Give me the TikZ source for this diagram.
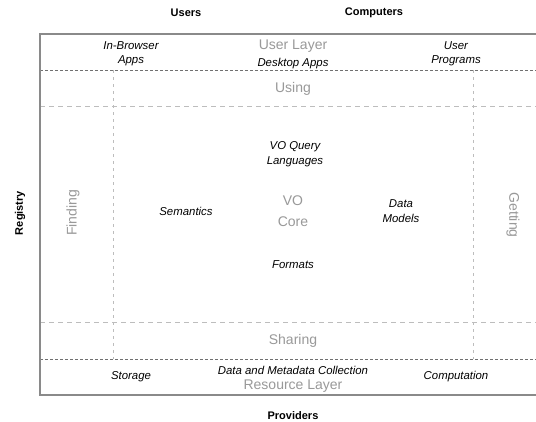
\documentclass[tikz,border=0pt]{standalone}
\usepackage{fontspec}
\setmainfont{Liberation Sans}
\definecolor{labgray}{HTML}{999999}
\definecolor{frame}{HTML}{8A8A8A}
\definecolor{darkdash}{HTML}{707070}
\definecolor{lightdash}{HTML}{BDBDBD}
\begin{document}
\begin{tikzpicture}[x=1pt,y=-1pt,
  heading/.style={font=\fontsize{11}{13}\selectfont\bfseries, text=black, inner sep=0pt},
  item/.style={font=\fontsize{11.4}{14.5}\selectfont\itshape, align=center, inner sep=0pt},
  layer/.style={font=\fontsize{14}{21}\selectfont, text=labgray, align=center, inner sep=0pt},
  border/.style={draw=frame, line width=1.3pt},
  strongdash/.style={draw=darkdash, line width=0.7pt, dash pattern=on 3pt off 2pt},
  softdash/.style={draw=lightdash, line width=0.7pt, dash pattern=on 5pt off 4pt},
  vdash/.style={draw=lightdash, line width=0.7pt, dash pattern=on 3pt off 4pt}]
\useasboundingbox (0,0) rectangle (536,421);
\clip (0,0) rectangle (536,421);
\fill[white] (0,0) rectangle (536,421);

% frame and dividers
\draw[vdash] (113,70) -- (113,359);
\draw[vdash] (473,70) -- (473,359);
\draw[softdash] (40,106) -- (540,106);
\draw[softdash] (40,322) -- (540,322);
\draw[strongdash] (40,70) -- (540,70);
\draw[strongdash] (40,359) -- (540,359);
\draw[border] (542,34) -- (40,34) -- (40,395) -- (542,395);

% outside headings
\node[heading] (users) at (186,13) {Users};
\node[heading] (computers) at (374,13) {Computers};
\node[heading] (providers) at (293,416) {Providers};
\node[heading, rotate=90] (registry) at (20,213) {Registry};

% user layer
\node[item] (browser) at (131,54) {In-Browser\\Apps};
\node[layer] (userlayer) at (293,46) {User Layer};
\node[item] (desktop) at (293,64) {Desktop Apps};
\node[item] (programs) at (456,54) {User\\Programs};

% bands
\node[layer] (using) at (293,89) {Using};
\node[layer] (sharing) at (293,341) {Sharing};
\node[layer, rotate=90] (finding) at (73,213) {Finding};
\node[layer, rotate=-90] (getting) at (513,215) {Getting};

% core
\node[item] (query) at (295,154) {VO Query\\Languages};
\node[item] (semantics) at (186,211) {Semantics};
\node[layer] (core) at (293,211) {VO\\Core};
\node[item] (models) at (401,211) {Data\\Models};
\node[item] (formats) at (293,265) {Formats};

% resource layer
\node[item] (storage) at (131,377) {Storage};
\node[item] (collection) at (293,370) {Data and Metadata Collection};
\node[layer] (resource) at (293,386) {Resource Layer};
\node[item] (computation) at (456,377) {Computation};
\end{tikzpicture}
\end{document}
